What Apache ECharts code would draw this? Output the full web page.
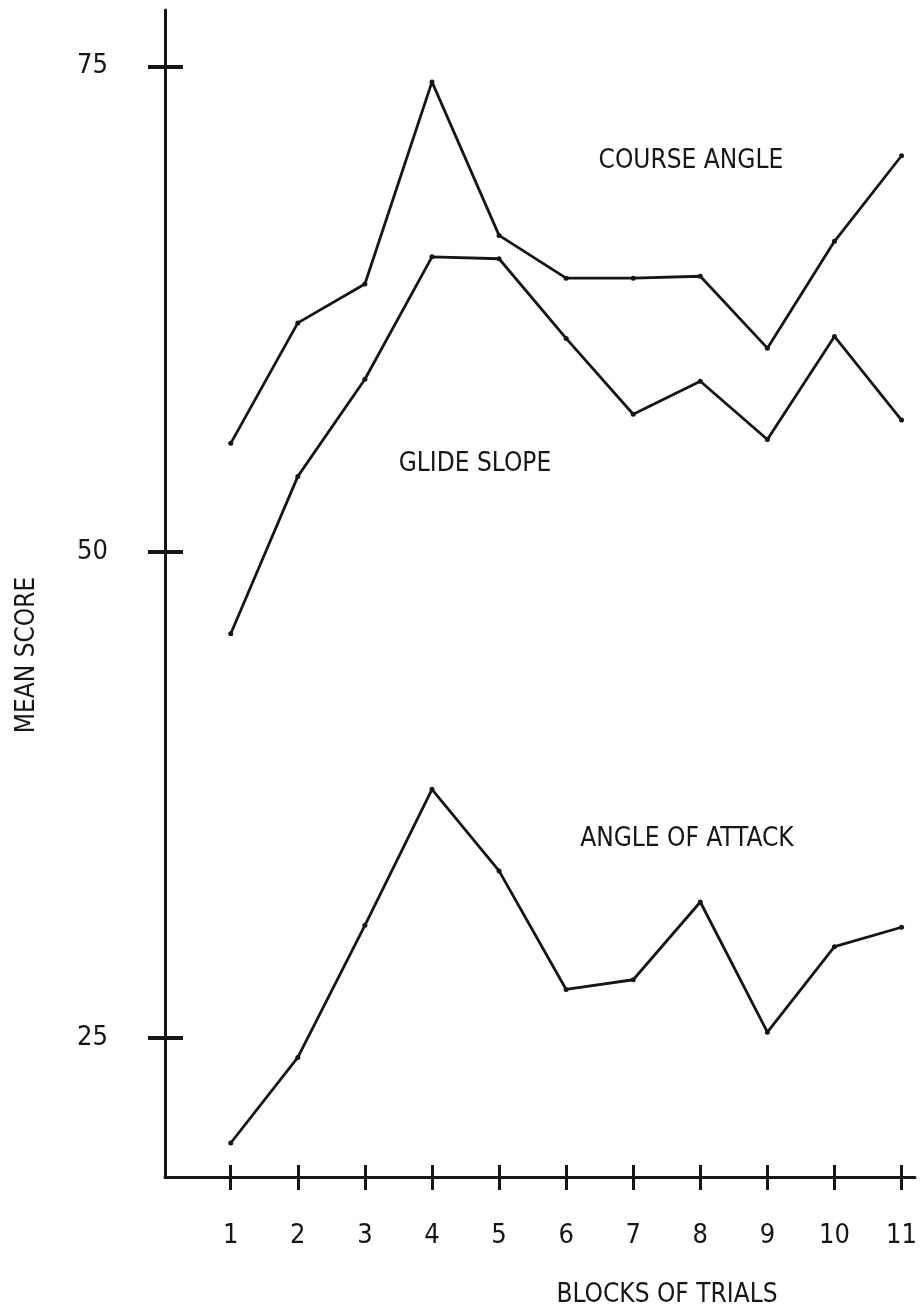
<!DOCTYPE html>
<html>
<head>
<meta charset="utf-8">
<script src="https://cdn.jsdelivr.net/npm/echarts@6/dist/echarts.min.js"></script>
<style>
html,body{margin:0;padding:0;background:#fff;}
#chart{width:920px;height:1313px;}
</style>
</head>
<body>
<div id="chart"></div>
<script>
// ---- data ----
var blocks = [1, 2, 3, 4, 5, 6, 7, 8, 9, 10, 11];
var courseAngle = [55.6, 61.8, 63.8, 74.2, 66.3, 64.1, 64.1, 64.2, 60.5, 66.0, 70.4];
var glideSlope = [45.8, 53.9, 58.9, 65.2, 65.1, 61.0, 57.1, 58.8, 55.8, 61.1, 56.8];
var angleOfAttack = [19.6, 24.0, 30.8, 37.8, 33.6, 27.5, 28.0, 32.0, 25.3, 29.7, 30.7];
var yTicks = [25, 50, 75];
var seriesNames = ['COURSE ANGLE', 'GLIDE SLOPE', 'ANGLE OF ATTACK'];
// label anchor positions in data units [block, score]
var labelPos = [[7.86, 70.1], [4.64, 54.55], [7.8, 35.25]];

var FONT = '"DejaVu Sans Condensed", "Liberation Sans Narrow", "Liberation Sans", sans-serif';
var INK = '#161616';

function pairs(vals) {
  return blocks.map(function (b, i) { return [b, vals[i]]; });
}

function makeSeries(name, vals, pos) {
  return {
    name: name,
    type: 'line',
    data: pairs(vals),
    symbol: 'circle',
    symbolSize: 5,
    showSymbol: true,
    lineStyle: { color: INK, width: 2.8 },
    itemStyle: { color: INK },
    animation: false,
    silent: true,
    markPoint: {
      symbol: 'circle',
      symbolSize: 1,
      itemStyle: { color: 'rgba(0,0,0,0)' },
      label: {
        show: true,
        position: 'inside',
        formatter: name,
        color: INK,
        fontFamily: FONT,
        fontSize: 26
      },
      data: [{ coord: pos }]
    }
  };
}

var chart = echarts.init(document.getElementById('chart'), null, { renderer: 'canvas' });

var xCommon = {
  type: 'value',
  min: 0.02,
  max: 11.2,
  position: 'bottom',
  gridIndex: 0,
  splitLine: { show: false },
  axisLine: { onZero: false }
};
var yCommon = {
  type: 'value',
  min: 17.85,
  max: 77.9,
  position: 'left',
  gridIndex: 0,
  splitLine: { show: false },
  axisLine: { onZero: false }
};

chart.setOption({
  backgroundColor: '#ffffff',
  animation: false,
  grid: { left: 165, right: 0, top: 10, bottom: 136, containLabel: false },
  xAxis: [
    Object.assign({}, xCommon, {
      axisLine: { show: true, onZero: false, lineStyle: { color: INK, width: 3 } },
      axisTick: { show: true, inside: false, length: 13, customValues: blocks, lineStyle: { color: INK, width: 3 } },
      axisLabel: { show: true, customValues: blocks, margin: 45, color: INK, fontFamily: FONT, fontSize: 27 }
    }),
    Object.assign({}, xCommon, {
      axisLine: { show: false, onZero: false },
      axisTick: { show: true, inside: true, length: 12, customValues: blocks, lineStyle: { color: INK, width: 3 } },
      axisLabel: { show: false }
    })
  ],
  yAxis: [
    Object.assign({}, yCommon, {
      axisLine: { show: true, onZero: false, lineStyle: { color: INK, width: 3 } },
      axisTick: { show: true, inside: false, length: 17, customValues: yTicks, lineStyle: { color: INK, width: 4 } },
      axisLabel: { show: true, customValues: yTicks, margin: 57, color: INK, fontFamily: FONT, fontSize: 27 }
    }),
    Object.assign({}, yCommon, {
      axisLine: { show: false, onZero: false },
      axisTick: { show: true, inside: true, length: 18, customValues: yTicks, lineStyle: { color: INK, width: 4 } },
      axisLabel: { show: false }
    })
  ],
  graphic: [
    {
      type: 'text',
      x: 27, y: 655,
      rotation: Math.PI / 2,
      style: {
        text: 'MEAN SCORE',
        fill: INK,
        font: '26px ' + FONT,
        textAlign: 'center',
        textVerticalAlign: 'middle'
      }
    },
    {
      type: 'text',
      x: 667, y: 1295,
      style: {
        text: 'BLOCKS OF TRIALS',
        fill: INK,
        font: '26px ' + FONT,
        textAlign: 'center',
        textVerticalAlign: 'middle'
      }
    }
  ],
  series: [
    makeSeries(seriesNames[0], courseAngle, labelPos[0]),
    makeSeries(seriesNames[1], glideSlope, labelPos[1]),
    makeSeries(seriesNames[2], angleOfAttack, labelPos[2])
  ]
});
</script>
</body>
</html>
